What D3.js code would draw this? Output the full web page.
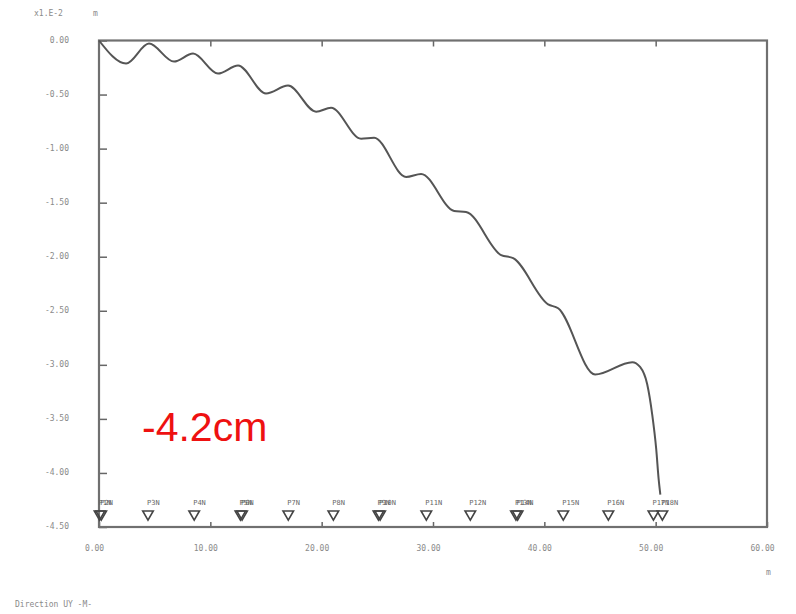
<html>
<head>
    <meta charset="utf-8">
    <script type="text/javascript" src="https://cdnjs.cloudflare.com/ajax/libs/d3/7.8.5/d3.min.js"></script>
    <style>
        body { margin: 0; background: #fff; }
        .axis text { font-family: "DejaVu Sans Mono", monospace; font-size: 8px; fill: #8a8a8a; }
        .axis line { stroke: #666; stroke-width: 1.5; }
        .axis path { display: none; }
    </style>
</head>
<body>
<script type="text/javascript">

    // deflection curve, x in m, y in x1.E-2 m
    var curveX = [0, 2.43, 4.49, 6.74, 8.45, 10.69, 12.49, 15.0, 16.98, 19.5, 20.84, 23.54, 24.71,
                  27.58, 28.93, 31.9, 32.97, 36.12, 37.2, 40.34, 41.24, 44.56, 47.9, 48.6, 49.24, 49.69, 50.05, 50.27, 50.42];
    var curveY = [0, -0.213, -0.028, -0.195, -0.121, -0.306, -0.232, -0.49, -0.417, -0.659, -0.622, -0.909, -0.9,
                  -1.262, -1.234, -1.577, -1.586, -1.985, -2.013, -2.44, -2.477, -3.089, -2.975, -3.02, -3.18, -3.46, -3.78, -4.06, -4.2];

    // nodes along the path
    var nodeNames = ["P1N", "P2N", "P3N", "P4N", "P5N", "P6N", "P7N", "P8N", "P9N", "P10N",
                     "P11N", "P12N", "P13N", "P14N", "P15N", "P16N", "P17N", "P18N"];
    var nodeX = [0.05, 0.2, 4.4, 8.55, 12.7, 12.85, 17.0, 21.05, 25.1, 25.25,
                 29.4, 33.35, 37.45, 37.6, 41.7, 45.75, 49.8, 50.6];

    var xTicks = [0, 10, 20, 30, 40, 50, 60];
    var yTicks = [0, -0.5, -1, -1.5, -2, -2.5, -3, -3.5, -4, -4.5];

    var pLeft = 99, pRight = 767, pTop = 40.5, pBottom = 527;

    var svg = d3.select("body").append("svg").attr("width", 796).attr("height", 614);

    var x = d3.scaleLinear().domain([0, 60]).range([pLeft, pRight]);
    var y = d3.scaleLinear().domain([-4.5, 0]).range([pBottom, pTop]);
    var fmt = function (d) { return d.toFixed(2); };

    // axes, ticks pointing inward
    svg.append("g")
        .attr("class", "axis")
        .attr("transform", "translate(" + pLeft + ",0)")
        .call(d3.axisLeft(y).tickValues(yTicks).tickFormat(fmt).tickSize(-8).tickPadding(30))
        .selectAll("text").attr("dy", "0.2em");

    svg.append("g")
        .attr("class", "axis")
        .attr("transform", "translate(0," + pBottom + ")")
        .call(d3.axisBottom(x).tickValues(xTicks).tickFormat(fmt).tickSize(-5).tickPadding(18))
        .selectAll("text").attr("dx", "-5");

    svg.append("g")
        .attr("class", "axis")
        .attr("transform", "translate(0," + pTop + ")")
        .call(d3.axisTop(x).tickValues(xTicks.slice(1, -1)).tickSize(-6).tickFormat(""));

    // frame
    svg.append("rect")
        .attr("x", pLeft).attr("y", pTop)
        .attr("width", pRight - pLeft).attr("height", pBottom - pTop)
        .attr("fill", "none").attr("stroke", "#707070").attr("stroke-width", 2.2);

    // curve
    var pts = curveX.map(function (d, i) { return [d, curveY[i]]; });
    var line = d3.line()
        .x(function (d) { return x(d[0]); })
        .y(function (d) { return y(d[1]); })
        .curve(d3.curveMonotoneX);

    svg.append("path")
        .datum(pts)
        .attr("d", line)
        .attr("fill", "none")
        .attr("stroke", "#555")
        .attr("stroke-width", 2);

    // node markers
    var tri = d3.symbol().type(d3.symbolTriangle).size(48);
    var nodes = svg.append("g");
    nodes.selectAll("path")
        .data(nodeX)
        .enter()
        .append("path")
        .attr("d", tri)
        .attr("transform", function (d) { return "translate(" + x(d) + "," + 514 + ") rotate(180)"; })
        .attr("fill", "none")
        .attr("stroke", "#444")
        .attr("stroke-width", 1.6);

    nodes.selectAll("text")
        .data(nodeX)
        .enter()
        .append("text")
        .attr("x", function (d) { return x(d) - 1; })
        .attr("y", 505)
        .attr("font-family", "DejaVu Sans Mono, monospace")
        .attr("font-size", "7px")
        .attr("fill", "#666")
        .text(function (d, i) { return nodeNames[i]; });

    // texts
    svg.append("text").attr("x", 34).attr("y", 16)
        .attr("font-family", "DejaVu Sans Mono, monospace").attr("font-size", "8px").attr("fill", "#8a8a8a")
        .text("x1.E-2");
    svg.append("text").attr("x", 93).attr("y", 16)
        .attr("font-family", "DejaVu Sans Mono, monospace").attr("font-size", "8px").attr("fill", "#8a8a8a")
        .text("m");
    svg.append("text").attr("x", 766).attr("y", 575)
        .attr("font-family", "DejaVu Sans Mono, monospace").attr("font-size", "8px").attr("fill", "#8a8a8a")
        .text("m");
    svg.append("text").attr("x", 15).attr("y", 607)
        .attr("font-family", "DejaVu Sans Mono, monospace").attr("font-size", "8px").attr("fill", "#8a8a8a")
        .text("Direction UY -M-");

    svg.append("text").attr("x", 142).attr("y", 441)
        .attr("font-family", "Liberation Sans, Arial, sans-serif").attr("font-size", "41px").attr("fill", "#ee1111")
        .text("-4.2cm");

</script>
</body>
</html>
